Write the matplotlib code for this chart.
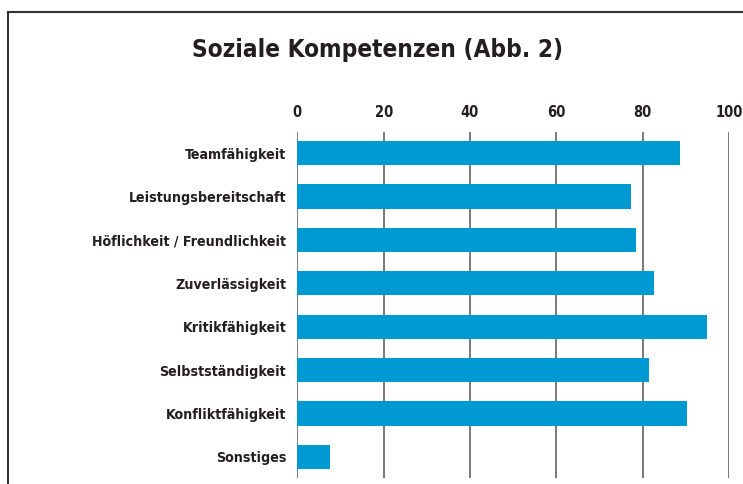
import matplotlib
matplotlib.use("Agg")
import matplotlib.pyplot as plt
from matplotlib.lines import Line2D

plt.rcParams['font.family'] = ['DejaVu Sans']
plt.rcParams['font.stretch'] = 'condensed'

categories = ["Teamfähigkeit", "Leistungsbereitschaft", "Höflichkeit / Freundlichkeit",
              "Zuverlässigkeit", "Kritikfähigkeit", "Selbstständigkeit",
              "Konfliktfähigkeit", "Sonstiges"]
values = [88.6, 77.4, 78.4, 82.6, 94.8, 81.5, 90.2, 7.6]
xticks = [0, 20, 40, 60, 80, 100]

text_color = "#231f20"
bar_color = "#009ad2"

fig = plt.figure(figsize=(7.43, 4.84), dpi=100)
ax = fig.add_axes([0.4001, 0.0114, 0.5811, 0.7169])

ypos = list(range(len(categories)))
ax.barh(ypos, values, height=0.56, color=bar_color, zorder=3)
ax.set_ylim(len(categories) - 0.5, -0.5)
ax.set_xlim(0, 100)
ax.set_xticks(xticks)
ax.set_yticks(ypos)
ax.set_yticklabels(categories)
ax.xaxis.tick_top()
ax.tick_params(axis='x', length=0, pad=8, labelsize=10.5, labelcolor=text_color)
ax.tick_params(axis='y', length=0, pad=8, labelsize=10.2, labelcolor=text_color)
for lab in ax.get_xticklabels() + ax.get_yticklabels():
    lab.set_fontweight('bold')
ax.grid(axis='x', color='#555555', linewidth=1.1, zorder=0)
for s in ax.spines.values():
    s.set_visible(False)

fig.text(0.508, 1 - 50 / 484, "Soziale Kompetenzen (Abb. 2)", ha='center', va='center',
         fontsize=17.5, fontweight='bold', color=text_color)

# frame lines top and left
fig.add_artist(Line2D([8 / 743, 1], [1 - 12 / 484, 1 - 12 / 484], color='#333333', lw=1.5,
                      transform=fig.transFigure))
fig.add_artist(Line2D([8 / 743, 8 / 743], [0, 1 - 12 / 484], color='#333333', lw=1.5,
                      transform=fig.transFigure))

fig.savefig("out.png", dpi=100)
